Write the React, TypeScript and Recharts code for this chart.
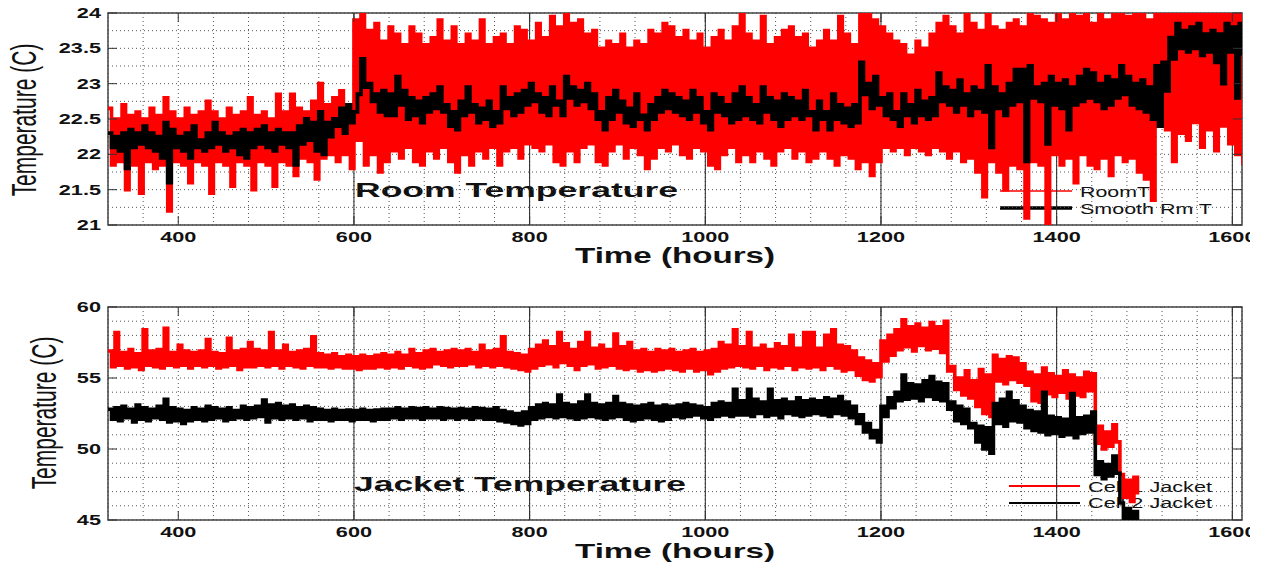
import React from 'react';
import { LineChart, Line, XAxis, YAxis, CartesianGrid, ReferenceLine, ReferenceArea } from 'recharts';

const FONT = '"Liberation Sans", Arial, sans-serif';

// samples every 8 hours from 320 h; "Hi" is the upper excursion at t, "Lo" the lower one at t + 4
const startHour = 320;
const stepHours = 8;

const roomHi = [
  22.65, 22.5, 22.7, 22.55, 22.6, 22.5, 22.65, 22.55, 22.8, 22.6, // 320
  22.5, 22.65, 22.55, 22.6, 22.75, 22.6, 22.5, 22.65, 22.55, 22.6, // 400
  22.8, 22.55, 22.6, 22.5, 22.85, 22.6, 22.85, 22.65, 22.6, 22.75, // 480
  23.0, 22.7, 22.8, 22.9, 22.7, 23.9, 24.0, 23.75, 23.85, 23.6, // 560
  23.8, 23.7, 23.55, 23.8, 23.7, 23.55, 23.65, 23.9, 23.6, 23.8, // 640
  23.55, 23.7, 23.6, 23.9, 23.55, 23.65, 23.7, 23.55, 23.8, 23.75, // 720
  23.6, 23.85, 23.65, 23.95, 23.8, 24.0, 23.85, 23.9, 23.7, 23.75, // 800
  23.5, 23.6, 23.55, 23.7, 23.5, 23.6, 23.55, 23.75, 23.7, 23.85, // 880
  23.8, 23.65, 23.75, 23.6, 23.7, 23.5, 23.65, 23.75, 23.6, 23.8, // 960
  24.0, 23.7, 23.6, 23.95, 23.55, 23.65, 23.75, 23.8, 23.65, 23.7, // 1040
  23.5, 23.6, 23.75, 23.6, 23.95, 23.7, 23.55, 24.0, 24.0, 23.9, // 1120
  23.8, 23.7, 23.6, 23.55, 23.4, 23.6, 23.5, 23.7, 23.85, 23.95, // 1200
  23.8, 23.7, 24.0, 23.85, 23.75, 24.0, 23.8, 23.75, 23.85, 23.9, // 1280
  23.8, 24.0, 23.95, 23.9, 23.85, 24.0, 23.9, 24.0, 23.95, 24.0, // 1360
  23.85, 24.0, 23.9, 24.0, 24.0, 23.95, 24.0, 24.0, 23.9, 24.0, // 1440
  24.0, 24.0, 24.0, 24.0, 24.0, 24.0, 24.0, 24.0, 24.0, 24.0, // 1520
  24.0, 24.0, // 1600
];

const roomLo = [
  21.85, 21.9, 21.5, 21.85, 21.45, 21.9, 21.8, 21.85, 21.2, 21.9, // 324
  21.85, 21.6, 21.9, 21.85, 21.45, 21.9, 21.85, 21.55, 21.9, 21.85, // 404
  21.5, 21.9, 21.85, 21.55, 21.9, 21.85, 21.7, 21.95, 21.9, 21.65, // 484
  21.95, 22.0, 21.9, 22.0, 21.8, 22.2, 21.85, 22.0, 21.75, 21.9, // 564
  22.05, 21.95, 22.1, 21.9, 21.85, 22.05, 21.95, 22.1, 21.9, 21.75, // 644
  22.0, 21.85, 22.05, 21.95, 22.1, 21.85, 22.05, 22.1, 21.95, 22.15, // 724
  22.1, 22.05, 22.15, 21.9, 21.85, 22.05, 21.9, 22.1, 22.15, 21.9, // 804
  21.85, 22.05, 22.15, 21.95, 22.1, 22.0, 21.8, 21.95, 22.1, 22.05, // 884
  22.15, 22.0, 21.95, 22.1, 22.05, 21.85, 21.8, 22.0, 22.1, 21.9, // 964
  22.0, 21.9, 22.05, 21.95, 21.85, 22.05, 22.1, 21.95, 22.05, 21.9, // 1044
  21.95, 22.05, 21.95, 21.85, 22.0, 21.95, 21.8, 21.9, 21.7, 21.9, // 1124
  22.1, 22.05, 22.1, 22.0, 22.1, 22.05, 22.0, 22.1, 22.05, 21.95, // 1204
  22.05, 21.9, 21.95, 21.75, 21.4, 21.9, 21.75, 21.5, 21.85, 21.8, // 1284
  21.1, 21.9, 21.85, 21.0, 22.0, 21.85, 21.95, 21.6, 22.0, 21.85, // 1364
  21.8, 21.95, 21.7, 22.0, 21.9, 21.95, 21.75, 21.65, 21.35, 22.4, // 1444
  22.35, 21.9, 22.3, 22.2, 22.45, 22.1, 22.35, 22.05, 22.4, 22.15, // 1524
  22.0, 21.85, // 1604
];

const smoothHi = [
  22.3, 22.25, 22.3, 22.35, 22.3, 22.4, 22.3, 22.25, 22.45, 22.35, // 320
  22.25, 22.3, 22.4, 22.2, 22.3, 22.45, 22.3, 22.25, 22.3, 22.35, // 400
  22.3, 22.35, 22.4, 22.3, 22.35, 22.3, 22.3, 22.4, 22.5, 22.45, // 480
  22.6, 22.45, 22.5, 22.65, 22.7, 22.6, 23.35, 23.0, 22.85, 22.9, // 560
  22.85, 23.1, 22.9, 22.8, 22.75, 22.8, 22.85, 22.95, 22.7, 22.6, // 640
  22.75, 22.95, 22.7, 22.65, 22.75, 22.6, 22.95, 22.8, 22.85, 22.9, // 720
  23.0, 22.85, 22.8, 22.95, 22.75, 23.1, 22.95, 22.9, 23.0, 22.85, // 800
  22.6, 22.8, 22.9, 22.75, 22.65, 22.85, 22.55, 22.7, 22.8, 22.9, // 880
  22.85, 22.8, 22.75, 22.9, 22.8, 22.6, 22.85, 22.8, 22.7, 22.85, // 960
  22.95, 22.8, 22.7, 22.95, 22.8, 22.75, 22.85, 22.8, 22.75, 22.9, // 1040
  22.6, 22.75, 22.6, 22.85, 22.7, 22.65, 22.7, 23.3, 23.0, 23.1, // 1120
  22.8, 22.85, 22.6, 22.85, 22.7, 22.9, 22.75, 22.8, 23.15, 22.95, // 1200
  22.9, 23.05, 22.85, 22.95, 22.9, 23.25, 22.95, 22.85, 23.0, 23.2, // 1280
  23.2, 23.25, 22.95, 23.0, 23.1, 23.0, 23.05, 22.95, 23.1, 23.2, // 1360
  23.15, 23.0, 23.1, 23.05, 23.25, 23.1, 23.0, 23.05, 22.95, 23.25, // 1440
  23.3, 23.65, 23.85, 23.75, 23.8, 23.85, 23.7, 23.75, 23.7, 23.85, // 1520
  23.8, 23.85, // 1600
];

const smoothLo = [
  22.1, 22.05, 21.8, 22.1, 22.15, 22.1, 22.05, 21.95, 21.6, 22.1, // 324
  22.05, 21.95, 22.1, 22.05, 22.1, 22.15, 22.05, 22.1, 22.0, 21.95, // 404
  22.1, 22.15, 22.1, 22.05, 22.15, 22.1, 21.85, 22.15, 22.2, 22.05, // 484
  22.0, 22.25, 22.4, 22.3, 22.45, 22.85, 22.95, 22.75, 22.6, 22.55, // 564
  22.55, 22.7, 22.5, 22.55, 22.45, 22.6, 22.65, 22.6, 22.4, 22.35, // 644
  22.55, 22.6, 22.45, 22.5, 22.4, 22.45, 22.65, 22.55, 22.6, 22.7, // 724
  22.75, 22.6, 22.55, 22.7, 22.55, 22.8, 22.7, 22.75, 22.65, 22.5, // 804
  22.35, 22.5, 22.6, 22.45, 22.4, 22.5, 22.35, 22.5, 22.6, 22.65, // 884
  22.6, 22.55, 22.5, 22.6, 22.45, 22.35, 22.6, 22.55, 22.45, 22.5, // 964
  22.55, 22.5, 22.45, 22.6, 22.5, 22.4, 22.5, 22.55, 22.5, 22.55, // 1044
  22.35, 22.5, 22.35, 22.5, 22.45, 22.4, 22.45, 22.85, 22.65, 22.7, // 1124
  22.55, 22.5, 22.4, 22.55, 22.45, 22.55, 22.5, 22.55, 22.75, 22.7, // 1204
  22.6, 22.7, 22.55, 22.65, 22.6, 22.1, 22.65, 22.55, 22.7, 22.75, // 1284
  21.9, 22.8, 22.75, 22.15, 22.7, 22.65, 22.35, 22.7, 22.75, 22.8, // 1364
  22.75, 22.65, 22.7, 22.8, 22.85, 22.7, 22.65, 22.6, 22.5, 22.4, // 1444
  22.9, 23.35, 23.5, 23.45, 23.5, 23.4, 23.45, 23.3, 23.0, 23.45, // 1524
  22.8, 23.4, // 1604
];

const cell1Hi = [
  56.9, 58.2, 56.8, 57.0, 56.7, 58.4, 56.9, 57.0, 58.5, 56.8, // 320
  57.3, 56.9, 56.8, 56.9, 57.7, 56.8, 56.7, 57.8, 56.9, 57.0, // 400
  57.5, 57.0, 56.9, 58.2, 56.9, 57.3, 56.8, 56.9, 57.0, 57.9, // 480
  56.7, 56.6, 56.7, 56.5, 56.6, 56.5, 56.6, 56.5, 56.6, 56.7, // 560
  56.6, 56.8, 56.6, 57.0, 56.7, 56.9, 57.0, 56.8, 56.9, 57.0, // 640
  56.9, 57.0, 56.8, 57.3, 56.9, 57.0, 57.9, 56.8, 56.7, 56.6, // 720
  57.0, 57.3, 57.6, 57.2, 58.2, 57.4, 57.0, 57.5, 58.2, 57.1, // 800
  57.3, 57.0, 58.1, 57.2, 57.5, 56.9, 57.0, 56.8, 57.0, 56.9, // 880
  57.0, 56.8, 56.9, 57.0, 56.8, 56.9, 57.0, 57.5, 57.3, 58.4, // 960
  57.2, 58.2, 57.1, 57.3, 57.0, 57.4, 57.2, 58.0, 57.1, 58.2, // 1040
  58.2, 57.1, 58.0, 58.4, 57.3, 57.2, 56.9, 56.4, 56.2, 56.0, // 1120
  57.6, 58.0, 58.4, 59.1, 58.6, 58.8, 58.5, 58.9, 58.6, 59.0, // 1200
  55.8, 55.0, 55.5, 54.8, 55.6, 55.2, 56.6, 56.3, 56.5, 56.4, // 1280
  56.0, 55.4, 55.2, 55.7, 55.3, 55.1, 55.5, 55.2, 55.0, 55.4, // 1360
  55.3, 51.6, 51.2, 51.7, 48.2, 47.8, 48.0, // 1440
];

const cell1Lo = [
  55.8, 55.9, 55.7, 55.8, 55.6, 55.9, 55.8, 55.7, 55.9, 55.8, // 324
  55.9, 55.7, 55.9, 55.8, 55.9, 55.7, 55.8, 55.9, 55.6, 55.8, // 404
  55.8, 55.9, 55.8, 55.9, 55.7, 55.9, 55.8, 55.7, 55.9, 55.8, // 484
  55.8, 55.7, 55.8, 55.7, 55.7, 55.6, 55.7, 55.7, 55.8, 55.7, // 564
  55.8, 55.7, 55.9, 55.8, 55.7, 55.8, 56.0, 55.9, 55.8, 55.9, // 644
  55.9, 56.0, 55.8, 55.9, 55.8, 55.9, 55.8, 55.7, 55.6, 55.5, // 724
  55.7, 55.9, 56.0, 55.8, 56.1, 55.9, 55.6, 55.9, 56.0, 55.7, // 804
  55.8, 55.9, 55.7, 55.6, 55.7, 55.5, 55.6, 55.5, 55.6, 55.7, // 884
  55.6, 55.5, 55.7, 55.5, 55.6, 55.3, 55.5, 55.7, 55.8, 55.9, // 964
  55.8, 55.7, 55.9, 55.6, 55.8, 55.7, 55.9, 55.6, 55.8, 55.7, // 1044
  55.8, 55.6, 55.9, 55.7, 55.5, 55.6, 55.2, 54.9, 54.8, 55.1, // 1124
  56.2, 56.6, 57.0, 57.2, 56.9, 57.3, 57.0, 57.1, 56.8, 55.5, // 1204
  54.2, 53.8, 53.6, 53.0, 52.5, 52.3, 54.8, 54.6, 54.9, 54.7, // 1284
  54.5, 53.4, 53.3, 53.9, 53.7, 54.0, 53.6, 53.8, 53.7, 54.1, // 1364
  50.4, 50.0, 50.2, 50.5, 46.6, 46.3, 46.8, // 1444
];

const cell2Hi = [
  52.8, 52.9, 53.0, 52.8, 53.1, 52.9, 52.8, 53.0, 53.5, 52.9, // 320
  52.8, 52.7, 52.9, 52.8, 53.0, 52.9, 52.8, 52.9, 52.7, 53.0, // 400
  52.9, 53.0, 53.45, 53.1, 53.2, 53.0, 53.1, 52.9, 53.0, 52.9, // 480
  52.8, 52.7, 52.8, 52.7, 52.75, 52.7, 52.8, 52.7, 52.75, 52.8, // 560
  52.8, 52.9, 52.8, 52.9, 52.85, 52.9, 52.8, 52.9, 52.85, 52.8, // 640
  52.85, 52.8, 52.9, 52.85, 52.8, 52.9, 52.7, 52.6, 52.5, 52.6, // 720
  52.9, 53.1, 53.2, 53.1, 53.8, 53.2, 53.1, 53.3, 53.8, 53.2, // 800
  53.1, 53.2, 53.7, 53.2, 53.1, 53.0, 53.1, 53.2, 53.0, 53.1, // 880
  53.0, 53.1, 53.2, 53.1, 53.0, 52.9, 53.2, 53.3, 53.2, 54.2, // 960
  53.4, 54.2, 53.5, 53.3, 54.2, 53.4, 53.5, 53.3, 53.6, 53.4, // 1040
  53.5, 53.4, 53.6, 53.5, 53.7, 53.3, 53.0, 52.4, 51.8, 51.3, // 1120
  53.0, 53.6, 54.0, 55.2, 54.6, 54.5, 54.8, 55.1, 54.7, 54.6, // 1200
  53.3, 53.0, 52.8, 51.8, 51.6, 51.5, 53.2, 53.5, 54.0, 53.4, // 1280
  53.0, 52.7, 52.6, 54.0, 52.3, 52.2, 52.1, 53.9, 52.2, 52.3, // 1360
  52.6, 49.1, 48.9, 49.5, 46.2, 45.8, 45.6, // 1440
];

const cell2Lo = [
  52.1, 52.0, 52.2, 51.9, 52.1, 52.0, 52.2, 52.1, 51.9, 52.0, // 324
  51.8, 52.0, 52.1, 52.0, 52.1, 52.2, 52.0, 52.1, 52.2, 52.1, // 404
  52.2, 52.3, 51.9, 52.2, 52.1, 52.2, 52.1, 52.2, 52.0, 52.1, // 484
  52.1, 52.0, 52.1, 52.1, 52.0, 52.1, 52.1, 52.0, 52.1, 52.1, // 564
  52.2, 52.1, 52.2, 52.2, 52.1, 52.2, 52.2, 52.1, 52.2, 52.1, // 644
  52.2, 52.1, 52.2, 52.1, 52.1, 52.0, 51.9, 51.8, 51.7, 51.8, // 724
  52.1, 52.2, 52.3, 52.2, 52.3, 52.2, 52.1, 52.2, 52.3, 52.2, // 804
  52.1, 52.2, 52.3, 52.1, 52.0, 52.1, 52.2, 52.1, 52.0, 52.1, // 884
  52.3, 52.2, 52.3, 52.4, 52.2, 52.1, 52.3, 52.4, 52.3, 52.4, // 964
  52.4, 52.3, 52.5, 52.3, 52.4, 52.2, 52.5, 52.4, 52.3, 52.4, // 1044
  52.5, 52.4, 52.3, 52.5, 52.4, 52.2, 51.8, 51.2, 50.8, 50.5, // 1124
  52.3, 52.9, 53.4, 53.5, 53.6, 53.4, 53.7, 53.5, 53.4, 52.8, // 1204
  52.0, 51.8, 51.5, 50.5, 50.0, 49.7, 51.8, 51.6, 52.0, 51.9, // 1284
  51.5, 51.3, 51.2, 51.0, 51.1, 50.9, 51.0, 50.8, 51.1, 51.2, // 1364
  48.2, 47.9, 48.1, 48.3, 45.1, 44.9, 45.0, // 1444
];

const hourTicks = [
  360, 400, 440, 480, 520, 560, 600, 640, 680, 720, 760, 800, 840, 880, 920, 960,
  1000, 1040, 1080, 1120, 1160, 1200, 1240, 1280, 1320, 1360, 1400, 1440, 1480, 1520, 1560, 1600,
];
const hourLabels = [400, 600, 800, 1000, 1200, 1400, 1600];
const majorHours = [600, 800, 1000, 1200, 1400, 1600];
const roomTicks = [21, 21.25, 21.5, 21.75, 22, 22.25, 22.5, 22.75, 23, 23.25, 23.5, 23.75, 24];
const roomLabels = [21, 21.5, 22, 22.5, 23, 23.5, 24];
const jacketTicks = [45, 46, 47, 48, 49, 50, 51, 52, 53, 54, 55, 56, 57, 58, 59, 60];
const jacketLabels = [45, 50, 55, 60];

// zig-zag rows: each sample gives an upper point and, half a step later, a lower point
const roomRows = roomHi.flatMap((hi, i) => [
  { t: startHour + i * stepHours, room: hi, smooth: smoothHi[i] },
  { t: startHour + i * stepHours + stepHours / 2, room: roomLo[i], smooth: smoothLo[i] },
]);

const jacketRows = cell1Hi.flatMap((hi, i) => [
  { t: startHour + i * stepHours, cell1: hi, cell2: cell2Hi[i] },
  { t: startHour + i * stepHours + stepHours / 2, cell1: cell1Lo[i], cell2: cell2Lo[i] },
]);

const PLOT_W = 1134;

const makeXTick = (plotH: number) => (props: any) => {
  const { x, y, payload } = props;
  if (!hourLabels.includes(payload.value)) return <g />;
  return (
    <g>
      <line x1={x} x2={x} y1={y} y2={y - 9} stroke="#333" />
      <line x1={x} x2={x} y1={y - plotH} y2={y - plotH + 9} stroke="#333" />
      <text
        transform={`translate(${x},${y + 17}) scale(1.55,1)`}
        textAnchor="middle"
        fontFamily={FONT}
        fontWeight="bold"
        fontSize={14}
        fill="#111"
      >
        {payload.value}
      </text>
    </g>
  );
};

const makeYTick = (labels: number[]) => (props: any) => {
  const { x, y, payload } = props;
  if (!labels.includes(payload.value)) return <g />;
  return (
    <g>
      <line x1={x} x2={x + 9} y1={y} y2={y} stroke="#333" />
      <line x1={x + PLOT_W - 9} x2={x + PLOT_W} y1={y} y2={y} stroke="#333" />
      <text
        transform={`translate(${x - 7},${y + 5}) scale(1.55,1)`}
        textAnchor="end"
        fontFamily={FONT}
        fontWeight="bold"
        fontSize={14}
        fill="#111"
      >
        {payload.value}
      </text>
    </g>
  );
};

const bold = { fontFamily: FONT, fontWeight: 'bold' as const, fill: '#111' };

const Annotations = () => (
  <svg width={1270} height={567} style={{ position: 'absolute', left: 0, top: 0 }}>
    <text transform="translate(36,120) rotate(-90) scale(1,1.65)" textAnchor="middle" fontFamily={FONT} fontSize={21} fill="#111">
      Temperature (C)
    </text>
    <text transform="translate(56,413) rotate(-90) scale(1,1.65)" textAnchor="middle" fontFamily={FONT} fontSize={21} fill="#111">
      Temperature (C)
    </text>
    <text x={575} y={263} fontSize={22} textLength={200} lengthAdjust="spacingAndGlyphs" {...bold}>Time (hours)</text>
    <text x={575} y={558} fontSize={21} textLength={200} lengthAdjust="spacingAndGlyphs" {...bold}>Time (hours)</text>
    <text x={355} y={197} fontSize={21} textLength={323} lengthAdjust="spacingAndGlyphs" {...bold}>Room Temperature</text>
    <text x={354} y={491} fontSize={21} textLength={332} lengthAdjust="spacingAndGlyphs" {...bold}>Jacket Temperature</text>

    <line x1={1000} x2={1072} y1={191} y2={191} stroke="#ff0000" strokeWidth={1.5} />
    <line x1={1000} x2={1072} y1={208} y2={208} stroke="#000" strokeWidth={3.5} />
    <text x={1080} y={197} fontFamily={FONT} fontSize={14} fill="#111" textLength={70} lengthAdjust="spacingAndGlyphs">RoomT</text>
    <text x={1080} y={214} fontFamily={FONT} fontSize={14} fill="#111" textLength={132} lengthAdjust="spacingAndGlyphs">Smooth Rm T</text>

    <line x1={1009} x2={1080} y1={486} y2={486} stroke="#ff0000" strokeWidth={2} />
    <line x1={1009} x2={1080} y1={503} y2={503} stroke="#000" strokeWidth={2} />
    <text x={1088} y={492} fontFamily={FONT} fontSize={14} fill="#111" textLength={124} lengthAdjust="spacingAndGlyphs">Cell 1 Jacket</text>
    <text x={1088} y={508} fontFamily={FONT} fontSize={14} fill="#111" textLength={124} lengthAdjust="spacingAndGlyphs">Cell 2 Jacket</text>
  </svg>
);

const App: React.FC = () => {
  return (
    <div style={{ position: 'absolute', left: 0, top: 0, width: 1250, height: 567, overflow: 'hidden', background: '#fff' }}>
      <Annotations />

      <div style={{ position: 'absolute', left: 0, top: 0 }}>
        <LineChart width={1270} height={270} data={roomRows} margin={{ top: 13, right: 28, bottom: 15, left: 0 }}>
          <CartesianGrid stroke="#555" strokeDasharray="1 3" />
          <XAxis
            dataKey="t"
            type="number"
            domain={[320, 1611]}
            allowDataOverflow
            ticks={hourTicks}
            interval={0}
            tickSize={0}
            tickMargin={0}
            axisLine={false}
            tickLine={false}
            height={30}
            tick={makeXTick(212)}
          />
          <YAxis
            type="number"
            domain={[21, 24]}
            allowDataOverflow
            ticks={roomTicks}
            interval={0}
            tickSize={0}
            tickMargin={0}
            axisLine={false}
            tickLine={false}
            width={108}
            tick={makeYTick(roomLabels)}
          />
          {majorHours.map((h) => (
            <ReferenceLine key={h} x={h} stroke="#222" strokeWidth={1} />
          ))}
          <Line dataKey="room" type="stepAfter" stroke="#ff0000" strokeWidth={3.6} dot={false} activeDot={false} isAnimationActive={false} />
          <Line dataKey="smooth" type="stepAfter" stroke="#000" strokeWidth={3.8} dot={false} activeDot={false} isAnimationActive={false} />
          <ReferenceArea x1={320} x2={1611} y1={21} y2={24} fill="none" stroke="#444" strokeWidth={1.5} />
        </LineChart>
      </div>

      <div style={{ position: 'absolute', left: 0, top: 280 }}>
        <LineChart width={1270} height={287} data={jacketRows} margin={{ top: 27, right: 28, bottom: 17, left: 0 }}>
          <CartesianGrid stroke="#555" strokeDasharray="1 3" />
          <XAxis
            dataKey="t"
            type="number"
            domain={[320, 1611]}
            allowDataOverflow
            ticks={hourTicks}
            interval={0}
            tickSize={0}
            tickMargin={0}
            axisLine={false}
            tickLine={false}
            height={30}
            tick={makeXTick(213)}
          />
          <YAxis
            type="number"
            domain={[45, 60]}
            allowDataOverflow
            ticks={jacketTicks}
            interval={0}
            tickSize={0}
            tickMargin={0}
            axisLine={false}
            tickLine={false}
            width={108}
            tick={makeYTick(jacketLabels)}
          />
          {majorHours.map((h) => (
            <ReferenceLine key={h} x={h} stroke="#222" strokeWidth={1} />
          ))}
          <Line dataKey="cell1" type="stepAfter" stroke="#ff0000" strokeWidth={3.6} dot={false} activeDot={false} isAnimationActive={false} />
          <Line dataKey="cell2" type="stepAfter" stroke="#000" strokeWidth={3.6} dot={false} activeDot={false} isAnimationActive={false} />
          <ReferenceArea x1={320} x2={1611} y1={45} y2={60} fill="none" stroke="#444" strokeWidth={1.5} />
        </LineChart>
      </div>
    </div>
  );
};

export default App;
